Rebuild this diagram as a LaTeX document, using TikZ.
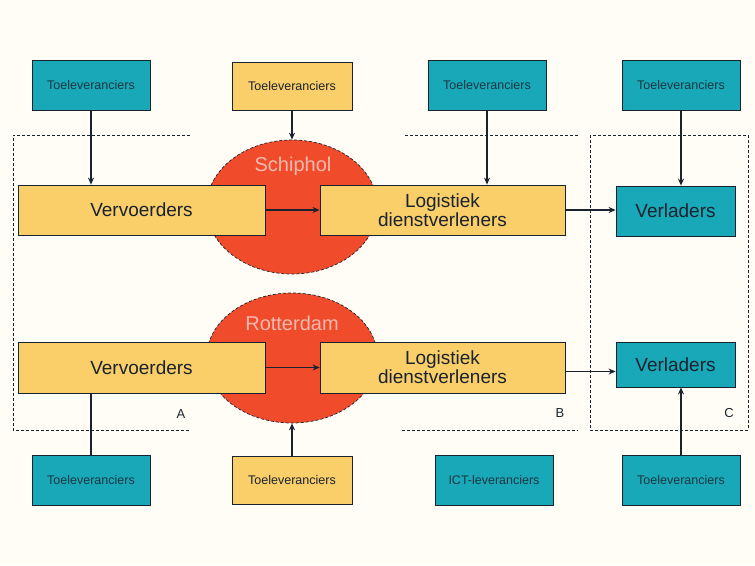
\documentclass[tikz,border=0pt]{standalone}
\usepackage{fontspec}
\setmainfont{Liberation Sans}
\usetikzlibrary{arrows.meta,shapes.geometric}
\definecolor{bgc}{RGB}{255,253,246}
\definecolor{tealc}{RGB}{24,168,184}
\definecolor{yelc}{RGB}{250,206,104}
\definecolor{redc}{RGB}{240,76,44}
\definecolor{darkc}{RGB}{25,35,45}
\definecolor{lblc}{RGB}{245,185,175}
\tikzset{
  tealbox/.style={fill=tealc, draw=darkc, line width=0.8pt, minimum width=118pt, minimum height=50pt, inner sep=0pt, font=\fontsize{12.5}{14}\selectfont, text=darkc!85!tealc},
  yelsmall/.style={fill=yelc, draw=darkc, line width=0.8pt, minimum width=120pt, minimum height=48pt, inner sep=0pt, font=\fontsize{12.5}{14}\selectfont, text=darkc},
  bigbox/.style={fill=yelc, draw=darkc, line width=0.8pt, minimum height=50pt, inner sep=0pt, align=center, font=\fontsize{19}{19}\selectfont, text=darkc},
  verbox/.style={fill=tealc, draw=darkc, line width=0.8pt, minimum width=119pt, inner sep=0pt, font=\fontsize{19}{20}\selectfont, text=darkc},
  hub/.style={ellipse, fill=redc, draw=darkc, densely dashed, line width=0.7pt, minimum width=171pt, inner sep=0pt},
  hublbl/.style={font=\fontsize{20}{22}\selectfont, text=lblc},
  zone/.style={draw=darkc, densely dashed, line width=0.8pt},
  conn/.style={draw=darkc, line width=1.2pt, -{Stealth[length=7pt,width=6pt]}},
  plain/.style={draw=darkc, line width=1.2pt},
  zlabel/.style={font=\fontsize{13}{14}\selectfont, text=darkc}
}
\begin{document}
\begin{tikzpicture}[x=1pt,y=-1pt]
\fill[bgc] (0,0) rectangle (755,565);
\useasboundingbox (0,0) rectangle (755,565);

% zones
\draw[zone] (190,135) -- (13,135) -- (13,430) -- (190,430);
\draw[zone] (405,135) -- (578,135);
\draw[zone] (402,430) -- (578,430);
\draw[zone] (590,135) rectangle (748,430);
\node[zlabel] (la) at (181,414) {A};
\node[zlabel] (lb) at (560,413) {B};
\node[zlabel] (lc) at (729,413) {C};

% hubs
\node[hub, minimum height=134pt] (h1) at (292,207) {};
\node[hub, minimum height=130pt] (h2) at (292,358) {};
\node[hublbl] (h1l) at (293,166) {Schiphol};
\node[hublbl] (h2l) at (292,323) {Rotterdam};

% top small boxes
\node[tealbox] (t1) at (91,85) {Toeleveranciers};
\node[yelsmall] (t2) at (292,86) {Toeleveranciers};
\node[tealbox] (t3) at (487,85) {Toeleveranciers};
\node[tealbox] (t4) at (681,85) {Toeleveranciers};

% bottom small boxes
\node[tealbox] (b1) at (91,480) {Toeleveranciers};
\node[yelsmall] (b2) at (292,480) {Toeleveranciers};
\node[tealbox] (b3) at (494,480) {ICT-leveranciers};
\node[tealbox] (b4) at (681,480) {Toeleveranciers};

% main boxes
\node[bigbox, minimum width=247pt] (v1) at (141.5,210) {Vervoerders};
\node[bigbox, minimum width=245pt] (l1) at (442.5,210) {Logistiek\\dienstverleners};
\node[verbox, minimum height=50pt] (r1) at (675.5,211) {Verladers};
\node[bigbox, minimum width=247pt, minimum height=51pt] (v2) at (141.5,367.5) {Vervoerders};
\node[bigbox, minimum width=245pt, minimum height=51pt] (l2) at (442.5,367.5) {Logistiek\\dienstverleners};
\node[verbox, minimum height=45pt] (r2) at (675.5,364.5) {Verladers};

% connectors
\draw[conn] (t1.south) -- (t1.south |- v1.north);
\draw[conn] (t2.south) -- (h1.north);
\draw[conn] (t3.south) -- (t3.south |- l1.north);
\draw[conn] (t4.south) -- (t4.south |- r1.north);
\draw[conn] (v1.east) -- (l1.west);
\draw[conn] (l1.east) -- (l1.east -| r1.west);
\draw[conn, line width=0.7pt] (v2.east) -- (l2.west);
\draw[conn] ([yshift=-4pt]l2.east) -- ([yshift=-4pt]l2.east -| r2.west);
\draw[plain] (b1.north) -- (b1.north |- v2.south);
\draw[conn] (b2.north) -- (h2.south);
\draw[conn] (b4.north) -- (b4.north |- r2.south);
\end{tikzpicture}
\end{document}
